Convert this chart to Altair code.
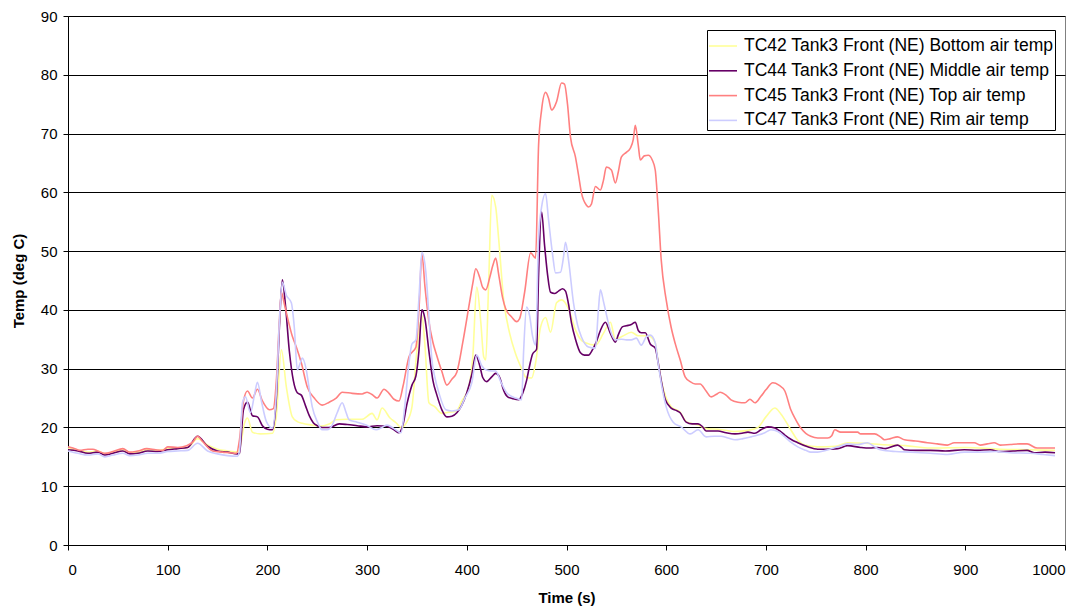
import altair as alt
import pandas as pd

series_names = [
    "TC42 Tank3 Front (NE) Bottom air temp",
    "TC44 Tank3 Front (NE) Middle air temp",
    "TC45 Tank3 Front (NE) Top air temp",
    "TC47 Tank3 Front (NE) Rim air temp",
]
series_colors = ["#FFFF99", "#660066", "#FF8080", "#CCCCFF"]

x_ticks = list(range(0, 1001, 100))
y_ticks = list(range(0, 91, 10))

# TC42 bottom (yellow)
tc42_t = [0, 10, 20, 30, 37, 45, 55, 62, 70, 80, 90, 100, 110, 120, 130, 140, 150, 160, 170, 173,
          177, 180, 185, 193, 205, 209, 214, 219, 225, 230, 235, 245, 252, 262, 269, 280, 295, 305,
          310, 315, 323, 329, 334, 340, 345, 350, 352, 355, 358, 362, 368, 375, 382, 389, 395, 402,
          406, 410, 414, 417, 419, 422, 425, 429, 432, 437, 443, 449, 455, 459, 465, 469, 474, 479,
          484, 490, 495, 502, 509, 514, 519, 529, 537, 544, 549, 556, 565, 572, 582, 589, 592, 595,
          600, 605, 614, 620, 632, 640, 652, 669, 682, 692, 700, 709, 715, 725, 732, 739, 752, 770,
          782, 800, 815, 840, 865, 900, 935, 965, 990]
tc42_v = [16.5, 16.1, 15.8, 16.0, 15.5, 15.8, 16.2, 15.7, 15.8, 16.2, 16.1, 16.4, 16.5, 16.6, 18.1,
          17.0, 16.3, 16.0, 15.8, 17.0, 20.7, 21.6, 19.2, 18.9, 19.0, 22.0, 33.2, 26.9, 21.8, 21.0,
          20.7, 20.4, 20.2, 20.6, 21.3, 21.4, 21.4, 22.4, 21.3, 23.3, 21.6, 20.8, 20.0, 21.0, 23.5,
          33.2, 36.0, 39.0, 34.0, 24.2, 23.5, 22.4, 22.6, 22.7, 24.5, 26.9, 32.0, 43.9, 38.0, 32.0,
          31.5, 45.0, 59.5, 57.5, 52.0, 41.7, 36.0, 32.5, 30.0, 28.6, 28.4, 31.0, 37.1, 38.7, 36.2,
          41.2, 41.7, 40.2, 36.6, 35.0, 34.4, 34.0, 36.0, 37.9, 35.0, 35.5, 36.2, 35.6, 35.6, 34.4,
          31.0, 28.0, 25.0, 23.5, 22.6, 21.0, 20.4, 19.8, 19.7, 19.3, 19.5, 20.0, 21.8, 23.3, 22.3,
          19.6, 17.8, 17.0, 16.7, 16.8, 17.4, 17.3, 17.1, 16.9, 16.5, 16.6, 16.3, 16.2, 16.1]

# TC44 middle (purple)
tc44_t = [0, 10, 20, 30, 37, 45, 55, 62, 70, 80, 90, 100, 110, 120, 130, 140, 150, 160, 170, 172,
          176, 180, 185, 190, 195, 200, 205, 209, 212, 215, 218, 222, 226, 230, 234, 238, 242, 246,
          250, 255, 262, 272, 280, 290, 300, 310, 320, 327, 332, 336, 340, 345, 349, 352, 355, 358,
          362, 366, 370, 375, 380, 385, 390, 395, 400, 405, 409, 413, 416, 420, 425, 429, 433, 437,
          441, 446, 452, 456, 460, 463, 466, 470, 472, 475, 478, 481, 484, 488, 492, 496, 499, 502,
          505, 509, 514, 518, 522, 526, 530, 534, 539, 544, 549, 552, 556, 560, 565, 569, 572, 575,
          579, 584, 589, 592, 595, 599, 605, 610, 614, 620, 626, 632, 636, 640, 652, 660, 669, 676,
          682, 689, 695, 702, 709, 714, 719, 725, 732, 742, 752, 760, 772, 782, 795, 804, 812, 820,
          832, 836, 839, 850, 865, 880, 899, 912, 925, 935, 948, 962, 969, 980, 990]
tc44_v = [16.2, 16.0, 15.6, 15.8, 15.3, 15.6, 16.0, 15.5, 15.6, 16.0, 15.9, 16.2, 16.4, 16.6, 18.5,
          16.8, 16.0, 15.8, 15.5, 15.6, 23.0, 24.3, 22.0, 21.8, 20.3, 19.7, 19.6, 25.0, 37.0, 45.1,
          41.0, 33.0, 28.0, 25.9, 25.5, 23.8, 22.0, 20.8, 20.3, 20.0, 20.0, 20.6, 20.5, 20.3, 20.1,
          20.3, 20.2, 19.6, 19.1, 20.5, 24.0, 27.2, 28.8, 33.0, 40.0, 38.5, 33.0, 28.0, 25.5, 23.0,
          21.8, 21.9, 22.5, 23.8, 25.9, 29.0, 32.3, 30.5, 28.5, 27.8, 28.6, 29.2, 28.5, 26.3, 25.2,
          24.9, 24.7, 25.8, 28.0, 30.5, 32.5, 33.3, 46.0, 56.7, 51.0, 46.0, 43.0, 42.8, 43.2, 43.6,
          43.2, 41.0, 37.8, 35.0, 32.7, 32.3, 32.3, 33.2, 34.6, 36.5, 37.9, 36.0, 34.5, 35.8, 37.1,
          37.3, 37.5, 37.9, 36.5, 36.1, 36.1, 34.2, 33.5, 31.0, 28.0, 24.8, 23.3, 22.9, 22.5, 20.9,
          20.6, 20.6, 20.2, 19.4, 19.4, 19.1, 18.9, 19.0, 19.2, 19.0, 19.6, 20.1, 19.9, 19.4, 18.7,
          18.0, 17.4, 16.7, 16.3, 16.3, 16.4, 16.9, 16.6, 16.5, 16.6, 16.4, 17.0, 16.6, 16.2, 16.1,
          16.1, 16.0, 16.2, 16.1, 16.2, 15.9, 16.0, 16.1, 15.7, 15.8, 15.7]

# TC45 top (red)
tc45_t = [0, 5, 12, 20, 25, 30, 37, 45, 55, 62, 70, 79, 88, 95, 100, 110, 119, 125, 130, 135, 145,
          155, 169, 172, 176, 180, 185, 190, 195, 202, 206, 209, 212, 214, 217, 220, 225, 229, 234,
          240, 247, 255, 262, 269, 275, 285, 295, 300, 305, 310, 317, 322, 327, 332, 336, 342, 349,
          352, 355, 358, 362, 366, 369, 375, 380, 385, 390, 396, 402, 406, 409, 413, 416, 419, 423,
          426, 429, 432, 436, 439, 445, 450, 453, 458, 464, 469, 472, 475, 479, 482, 485, 488, 490,
          495, 498, 501, 504, 509, 512, 515, 520, 522, 525, 529, 534, 537, 540, 545, 549, 552, 555,
          560, 564, 567, 569, 572, 574, 578, 582, 586, 589, 592, 595, 600, 605, 609, 614, 619, 624,
          629, 634, 640, 645, 650, 654, 660, 665, 672, 679, 684, 689, 695, 700, 707, 713, 719, 725,
          730, 735, 740, 745, 752, 762, 766, 769, 775, 782, 792, 795, 809, 815, 819, 825, 832, 839,
          850, 862, 872, 882, 889, 900, 909, 915, 922, 929, 935, 945, 955, 962, 972, 990]
tc45_v = [16.7, 16.5, 16.1, 16.3, 16.3, 16.0, 15.6, 15.9, 16.4, 15.8, 16.0, 16.4, 16.2, 16.1, 16.7,
          16.6, 16.9, 17.5, 18.5, 17.6, 16.0, 15.8, 15.6, 17.9, 24.5, 26.2, 25.0, 26.5, 24.5, 23.0,
          23.2, 28.0, 38.0, 43.0, 41.0, 38.8, 35.5, 33.7, 31.0, 26.9, 25.0, 23.8, 24.3, 25.0, 26.0,
          25.8, 25.7, 26.0, 25.6, 25.0, 26.5, 25.8, 24.8, 24.5, 27.0, 32.0, 33.7, 40.0, 49.5, 44.0,
          38.0, 34.5, 32.7, 29.5, 27.2, 28.2, 29.4, 34.5, 40.5, 44.5, 47.0, 45.5, 43.8, 43.4, 45.5,
          47.5, 48.8, 46.0, 42.0, 40.2, 38.8, 38.0, 38.5, 43.0, 49.7, 48.8, 68.0, 74.0, 77.0, 76.0,
          74.0, 74.6, 75.4, 78.6, 78.4, 75.0, 69.4, 66.0, 63.0, 59.9, 57.8, 57.5, 58.0, 61.0, 60.4,
          62.0, 64.3, 63.8, 61.6, 63.5, 66.0, 66.8, 67.5, 69.0, 71.4, 68.0, 65.5, 66.2, 66.3, 65.5,
          63.8, 57.0, 48.5, 41.7, 37.0, 34.3, 31.5, 28.6, 27.8, 27.4, 27.4, 26.2, 25.2, 25.6, 26.0,
          25.5, 24.7, 24.3, 24.2, 24.8, 24.2, 25.3, 26.4, 27.6, 27.2, 26.2, 23.0, 21.3, 19.9, 19.0,
          18.5, 18.2, 18.2, 18.6, 19.6, 19.2, 19.2, 19.2, 18.9, 18.9, 18.4, 17.9, 18.1, 18.4, 17.9,
          17.7, 17.4, 17.2, 17.0, 17.4, 17.4, 17.4, 17.0, 17.2, 17.4, 17.0, 17.1, 17.2, 17.2, 16.5,
          16.5]

# TC47 rim (light blue)
tc47_t = [0, 10, 20, 30, 37, 45, 55, 62, 70, 80, 90, 100, 110, 120, 130, 140, 150, 160, 170, 172,
          175, 178, 183, 187, 190, 194, 199, 205, 209, 212, 215, 219, 224, 227, 230, 233, 235, 239,
          242, 245, 250, 255, 260, 265, 270, 275, 279, 282, 290, 299, 309, 315, 320, 327, 334, 338,
          342, 345, 349, 352, 355, 359, 362, 365, 368, 372, 379, 385, 392, 398, 405, 410, 415, 419,
          425, 429, 434, 440, 449, 455, 457, 460, 463, 466, 469, 472, 475, 479, 482, 486, 489, 494,
          497, 499, 502, 507, 511, 515, 522, 529, 532, 534, 537, 539, 544, 549, 555, 560, 565, 570,
          575, 580, 584, 589, 592, 595, 600, 607, 615, 624, 632, 640, 648, 655, 662, 669, 677, 685,
          692, 699, 705, 712, 719, 725, 732, 740, 745, 752, 760, 772, 782, 792, 802, 809, 815, 830,
          845, 855, 865, 882, 899, 915, 930, 945, 965, 978, 990]
tc47_v = [16.0, 15.6, 15.3, 15.5, 15.0, 15.3, 15.6, 15.2, 15.3, 15.6, 15.6, 15.9, 16.0, 16.1, 17.3,
          16.0, 15.5, 15.2, 15.1, 16.0, 24.2, 25.2, 22.5, 25.5, 27.7, 24.5, 21.0, 19.9, 26.0, 38.0,
          44.7, 42.5, 41.2, 37.0, 29.8, 31.0, 31.8, 29.8, 26.5, 23.5, 21.0, 19.6, 19.6, 20.4, 22.5,
          24.2, 22.5, 21.3, 20.9, 20.4, 19.6, 20.0, 20.4, 19.8, 19.1, 24.0, 31.0, 34.2, 34.9, 42.0,
          49.8, 46.3, 39.0, 31.5, 28.5, 25.9, 23.0, 22.8, 23.0, 25.0, 27.6, 32.3, 30.5, 29.8, 29.6,
          29.6, 27.8, 25.9, 25.0, 24.7, 33.0, 40.5, 39.0, 35.5, 34.0, 52.4, 57.5, 59.8, 55.3, 49.5,
          46.3, 46.4, 49.0, 51.5, 48.5, 41.2, 37.5, 35.4, 33.7, 33.5, 40.0, 43.4, 41.5, 40.0, 36.5,
          34.9, 35.0, 34.9, 34.9, 35.2, 34.0, 35.4, 35.7, 34.4, 30.8, 27.6, 23.5, 20.9, 20.1, 18.9,
          19.6, 18.4, 18.5, 18.5, 18.2, 17.9, 18.1, 18.4, 18.7, 19.1, 19.6, 19.3, 18.4, 17.5, 16.7,
          16.1, 15.8, 15.8, 16.1, 16.7, 17.2, 17.1, 17.4, 16.7, 16.2, 15.9, 15.8, 15.7, 15.6, 15.4,
          15.8, 15.8, 15.9, 15.7, 15.6, 15.4, 15.2]

rows = []
for name, ts, vs in zip(series_names,
                        [tc42_t, tc44_t, tc45_t, tc47_t],
                        [tc42_v, tc44_v, tc45_v, tc47_v]):
    for t, v in zip(ts, vs):
        rows.append({"series": name, "t": t, "v": v})
df = pd.DataFrame(rows)

FONT = "Liberation Sans"

chart = alt.Chart(df).mark_line(interpolate="monotone", strokeWidth=1.6).encode(
    x=alt.X("t:Q",
            scale=alt.Scale(domain=[0, 1000], nice=False, zero=False),
            axis=alt.Axis(values=x_ticks, format="d", title="Time (s)", grid=False,
                          labelFontSize=15, labelFont=FONT, labelColor="black",
                          labelPadding=12, tickSize=5, tickColor="black",
                          domainColor="black", titleFont=FONT, titleFontSize=15,
                          titleFontWeight="bold", titleColor="black", titlePadding=13)),
    y=alt.Y("v:Q",
            scale=alt.Scale(domain=[0, 90], nice=False),
            axis=alt.Axis(values=y_ticks, title="Temp (deg C)", grid=True,
                          gridColor="black", gridWidth=1, gridOpacity=1,
                          labelFontSize=15, labelFont=FONT, labelColor="black",
                          labelPadding=6, tickSize=5, tickColor="black",
                          domainColor="black", titleFont=FONT, titleFontSize=15,
                          titleFontWeight="bold", titleColor="black", titlePadding=14)),
    color=alt.Color("series:N",
                    scale=alt.Scale(domain=series_names, range=series_colors),
                    sort=series_names,
                    legend=alt.Legend(title=None, orient="none", legendX=639, legendY=14,
                                      symbolType="stroke", symbolSize=784,
                                      symbolStrokeWidth=1.6, labelFontSize=17.5,
                                      labelFont=FONT, labelColor="black", labelLimit=500,
                                      labelOffset=6, strokeColor="black", fillColor="white",
                                      padding=1, rowPadding=0.8, cornerRadius=0)),
).properties(
    width=997, height=529,
    autosize=alt.AutoSizeParams(type="none"),
    padding={"left": 60, "top": 8, "right": 16, "bottom": 68},
).configure_view(stroke="#808080", strokeWidth=1)

chart.save("out.html", embed_options={"renderer": "svg", "actions": False})
